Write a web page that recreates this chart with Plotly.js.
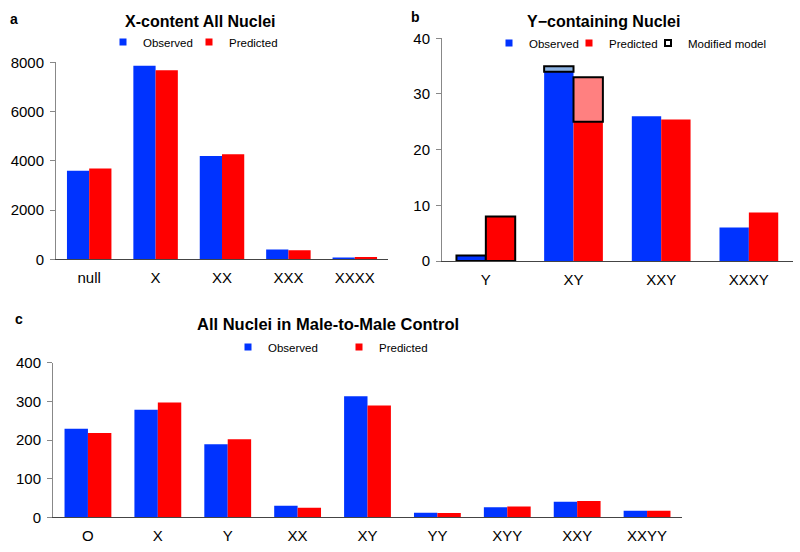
<!DOCTYPE html>
<html>
<head>
<meta charset="utf-8">
<script src="https://cdn.plot.ly/plotly-3.0.1.min.js"></script>
<style>
  body { margin: 0; }
  #chart { width: 800px; height: 552px; }
</style>
</head>
<body>
<div id="chart"></div>
<script>
// panel a - X-content, all nuclei
const catsA = ['null', 'X', 'XX', 'XXX', 'XXXX'];
const obsA = [3600, 7860, 4190, 400, 70];
const predA = [3690, 7680, 4270, 370, 90];

// panel b - Y-containing nuclei
const catsB = ['Y', 'XY', 'XXY', 'XXXY'];
const obsB = [1, 34, 26, 6];
const predB = [8, 25, 25.4, 8.7];
const modObsB = [null, 35, null, null];
const modPredB = [null, 33, null, null];
const outlinedB = [true, false, false, false];

// panel c - male-to-male control
const catsC = ['O', 'X', 'Y', 'XX', 'XY', 'YY', 'XYY', 'XXY', 'XXYY'];
const obsC = [229, 278, 189, 30, 313, 12, 26, 40, 17];
const predC = [218, 297, 202, 25, 289, 11, 28, 42, 17];

const BLUE = '#0033ff';
const RED = '#ff0000';
const LIGHTBLUE = '#8db3e2';
const SALMON = '#ff8080';
const FONT = 'Liberation Sans, Arial, sans-serif';

function bar(x, y, color, xa, ya, extra) {
  return Object.assign({
    type: 'bar', x: x, y: y, xaxis: xa, yaxis: ya,
    marker: {color: color, line: {width: 0}},
    showlegend: false, hoverinfo: 'x+y'
  }, extra || {});
}

// legend-only entries (one legend box per entry so each can be placed)
function key(name, color, xa, ya, legend, lineColor) {
  return {
    type: 'scatter', mode: 'markers', x: [null], y: [null],
    xaxis: xa, yaxis: ya, name: name, legend: legend,
    marker: {symbol: 'square', size: lineColor ? 6 : 7, color: color,
             line: {color: lineColor || color, width: lineColor ? 2 : 0}}
  };
}

const traces = [
  bar(catsA, obsA, BLUE, 'x', 'y'),
  bar(catsA, predA, RED, 'x', 'y'),
  key('Observed', BLUE, 'x', 'y', 'legend'),
  key('Predicted', RED, 'x', 'y', 'legend2'),

  bar(catsB, obsB, BLUE, 'x2', 'y2', {
    offsetgroup: 'obs',
    marker: {color: BLUE, line: {color: '#000', width: outlinedB.map(o => o ? 2 : 0)}}
  }),
  bar(catsB, predB, RED, 'x2', 'y2', {
    offsetgroup: 'pred',
    marker: {color: RED, line: {color: '#000', width: outlinedB.map(o => o ? 2 : 0)}}
  }),
  bar(catsB, modObsB.map((v, i) => v == null ? null : v - obsB[i]), LIGHTBLUE, 'x2', 'y2', {
    offsetgroup: 'obs', base: obsB,
    marker: {color: LIGHTBLUE, line: {color: '#000', width: 2}}
  }),
  bar(catsB, modPredB.map((v, i) => v == null ? null : v - predB[i]), SALMON, 'x2', 'y2', {
    offsetgroup: 'pred', base: predB,
    marker: {color: SALMON, line: {color: '#000', width: 2}}
  }),
  key('Observed', BLUE, 'x2', 'y2', 'legend3'),
  key('Predicted', RED, 'x2', 'y2', 'legend4'),
  key('Modified model', '#ffffff', 'x2', 'y2', 'legend5', '#000'),

  bar(catsC, obsC, BLUE, 'x3', 'y3'),
  bar(catsC, predC, RED, 'x3', 'y3'),
  key('Observed', BLUE, 'x3', 'y3', 'legend6'),
  key('Predicted', RED, 'x3', 'y3', 'legend7')
];

function px(v) { return v / 800; }
function py(v) { return 1 - v / 552; }

function xAxis(d, anchor) {
  return {
    domain: d, anchor: anchor, type: 'category',
    showline: true, linecolor: '#444', linewidth: 1,
    ticks: '', ticklabelstandoff: 5, showgrid: false, zeroline: false,
    tickfont: {family: FONT, size: 15, color: '#000'}, fixedrange: true
  };
}
function yAxis(d, anchor, range, dtick) {
  return {
    domain: d, anchor: anchor, range: range, dtick: dtick,
    showline: true, linecolor: '#888', linewidth: 1,
    ticks: 'outside', ticklen: 5, tickcolor: '#888',
    ticklabelstandoff: 3, showgrid: false, zeroline: false,
    tickfont: {family: FONT, size: 15, color: '#000'}, fixedrange: true
  };
}

function legendAt(x, y) {
  return {
    x: px(x), y: py(y), xanchor: 'left', yanchor: 'middle',
    orientation: 'h',
    font: {family: FONT, size: 11.5, color: '#000'},
    bgcolor: 'rgba(0,0,0,0)', borderwidth: 0, itemclick: false
  };
}

function label(text, x, y, size, bold) {
  return {
    text: bold ? '<b>' + text + '</b>' : text,
    x: px(x), y: py(y), xref: 'paper', yref: 'paper',
    xanchor: 'center', yanchor: 'middle', showarrow: false,
    font: {family: FONT, size: size, color: '#000'}
  };
}

const layout = {
  width: 800, height: 552,
  margin: {l: 0, r: 0, t: 0, b: 0},
  paper_bgcolor: '#fff', plot_bgcolor: '#fff',
  barmode: 'group', bargap: 0.33, bargroupgap: 0,
  font: {family: FONT},
  xaxis: xAxis([px(56), px(388)], 'y'),
  yaxis: yAxis([py(259.3), py(62.3)], 'x', [0, 8000], 2000),
  xaxis2: xAxis([px(442), px(792.7)], 'y2'),
  yaxis2: yAxis([py(261), py(38.3)], 'x2', [0, 40], 10),
  xaxis3: xAxis([px(53), px(682)], 'y3'),
  yaxis3: yAxis([py(517.3), py(362.7)], 'x3', [0, 400], 100),
  legend: legendAt(103, 42),
  legend2: legendAt(189, 42),
  legend3: legendAt(489, 43),
  legend4: legendAt(569, 43),
  legend5: legendAt(648, 43),
  legend6: legendAt(228, 347),
  legend7: legendAt(339, 347),
  annotations: [
    label('a', 14, 19, 14, true),
    label('X-content All Nuclei', 200, 21, 16, true),
    label('b', 415, 17, 14, true),
    label('Y\u2212containing Nuclei', 603, 21, 16, true),
    label('c', 19, 319, 14, true),
    label('All Nuclei in Male-to-Male Control', 328, 324, 16.5, true)
  ]
};

Plotly.newPlot('chart', traces, layout, {displayModeBar: false, staticPlot: true});
</script>
</body>
</html>
